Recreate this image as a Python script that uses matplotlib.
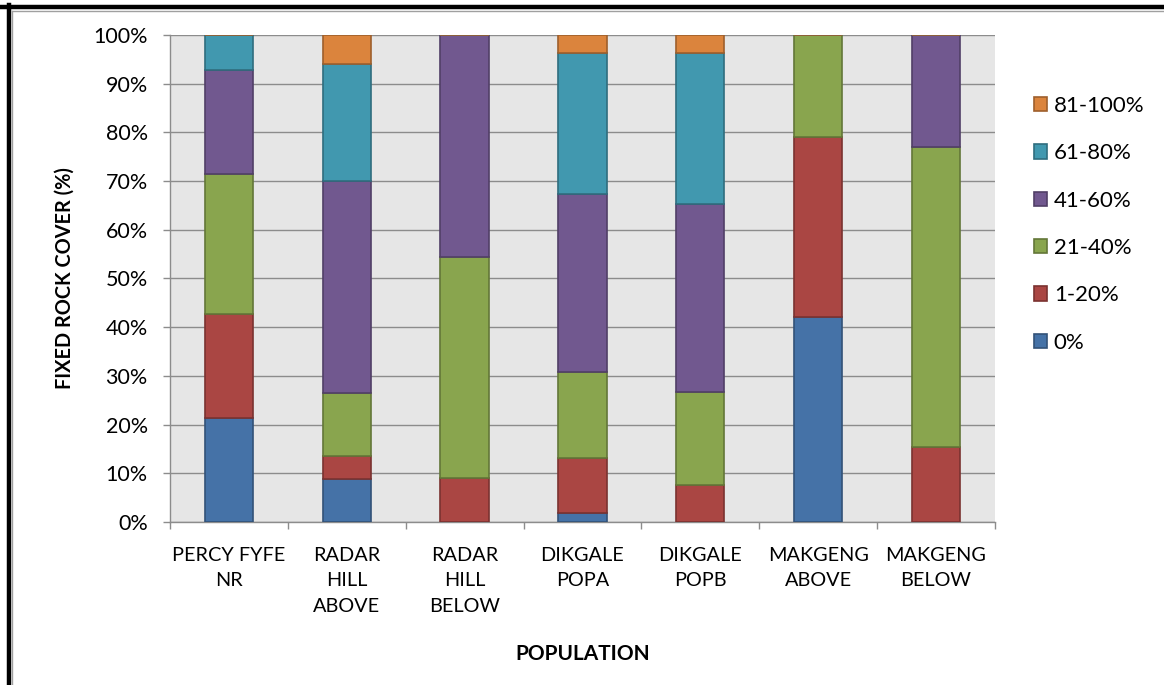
import matplotlib
matplotlib.use('Agg')
import matplotlib.pyplot as plt
import matplotlib.colors as mcolors
import numpy as np

plt.rcParams['font.family'] = ['Lato', 'DejaVu Sans']

populations = ['PERCY FYFE\nNR', 'RADAR\nHILL\nABOVE', 'RADAR\nHILL\nBELOW',
               'DIKGALE\nPOPA', 'DIKGALE\nPOPB', 'MAKGENG\nABOVE', 'MAKGENG\nBELOW']
cover_classes = ['0%', '1-20%', '21-40%', '41-60%', '61-80%', '81-100%']

# percentage of plants in each rock cover class, per population
pct_0 = [21.4, 8.9, 0.0, 1.8, 0.0, 42.1, 0.0]
pct_1_20 = [21.4, 4.7, 9.1, 11.3, 7.6, 37.0, 15.4]
pct_21_40 = [28.6, 12.9, 45.4, 17.7, 19.1, 20.9, 61.6]
pct_41_60 = [21.4, 43.5, 45.5, 36.6, 38.6, 0.0, 23.0]
pct_61_80 = [7.2, 24.0, 0.0, 28.9, 31.0, 0.0, 0.0]
pct_81_100 = [0.0, 6.0, 0.0, 3.7, 3.7, 0.0, 0.0]

series = [pct_0, pct_1_20, pct_21_40, pct_41_60, pct_61_80, pct_81_100]
colors = ['#4572A7', '#AA4643', '#89A54E', '#71588F', '#4198AF', '#DB843D']

fig = plt.figure(figsize=(11.64, 6.85), dpi=100)
ax = fig.add_axes([0.1460, 0.2380, 0.7088, 0.7109])
ax.set_facecolor('#e6e6e6')

x = np.arange(len(populations))
bottom = np.zeros(len(populations))
handles = []
for vals, lab, c in zip(series, cover_classes, colors):
    vals = np.array(vals)
    edge = tuple(v * 0.72 for v in mcolors.to_rgb(c))
    b = ax.bar(x, vals, 0.41, bottom=bottom, color=c, edgecolor=edge,
               linewidth=1.2, label=lab, zorder=3)
    handles.append(b)
    bottom += vals

ax.set_xlim(-0.5, len(populations) - 0.5)
ax.set_ylim(0, 100)
ax.set_yticks(np.arange(0, 101, 10))
ax.set_yticklabels([f'{v}%' for v in range(0, 101, 10)], fontsize=15.5)
ax.yaxis.grid(True, color='#8c8c8c', linewidth=1, zorder=0)
ax.set_axisbelow(True)

ax.set_xticks(x)
ax.set_xticklabels(populations, fontsize=14.3, linespacing=1.6)
ax.tick_params(axis='x', length=0, pad=18)
ax.set_xticks(np.arange(-0.5, len(populations)), minor=True)
ax.tick_params(axis='x', which='minor', length=5, color='#8c8c8c', width=1)
ax.tick_params(axis='y', length=5, color='#8c8c8c', width=1, pad=11)

for s in ['top', 'right']:
    ax.spines[s].set_visible(False)
for s in ['left', 'bottom']:
    ax.spines[s].set_color('#8c8c8c')
    ax.spines[s].set_linewidth(1)

ax.set_ylabel('FIXED ROCK COVER (%)', fontsize=14.3, fontweight='bold', labelpad=13)
ax.set_xlabel('POPULATION', fontsize=15, fontweight='bold', labelpad=21)

leg = fig.legend(handles[::-1], cover_classes[::-1], loc='upper left',
                 bbox_to_anchor=(0.871, 0.889), frameon=False, fontsize=16,
                 handlelength=0.6, handleheight=0.6, handletextpad=0.3,
                 labelspacing=1.23)

# outer frame (top and left edges)
fig.add_artist(plt.Line2D([0.0, 1.0], [0.9898, 0.9898], transform=fig.transFigure,
                          color='black', linewidth=3.2))
fig.add_artist(plt.Line2D([0.0079, 0.0079], [0.0, 0.993], transform=fig.transFigure,
                          color='black', linewidth=3.2))
fig.add_artist(plt.Line2D([0.0103, 1.0], [0.9845, 0.9845], transform=fig.transFigure,
                          color='#a0a0a0', linewidth=1))
fig.add_artist(plt.Line2D([0.0103, 0.0103], [0.0, 0.9845], transform=fig.transFigure,
                          color='#a0a0a0', linewidth=1))

fig.savefig('out.png', dpi=100)
